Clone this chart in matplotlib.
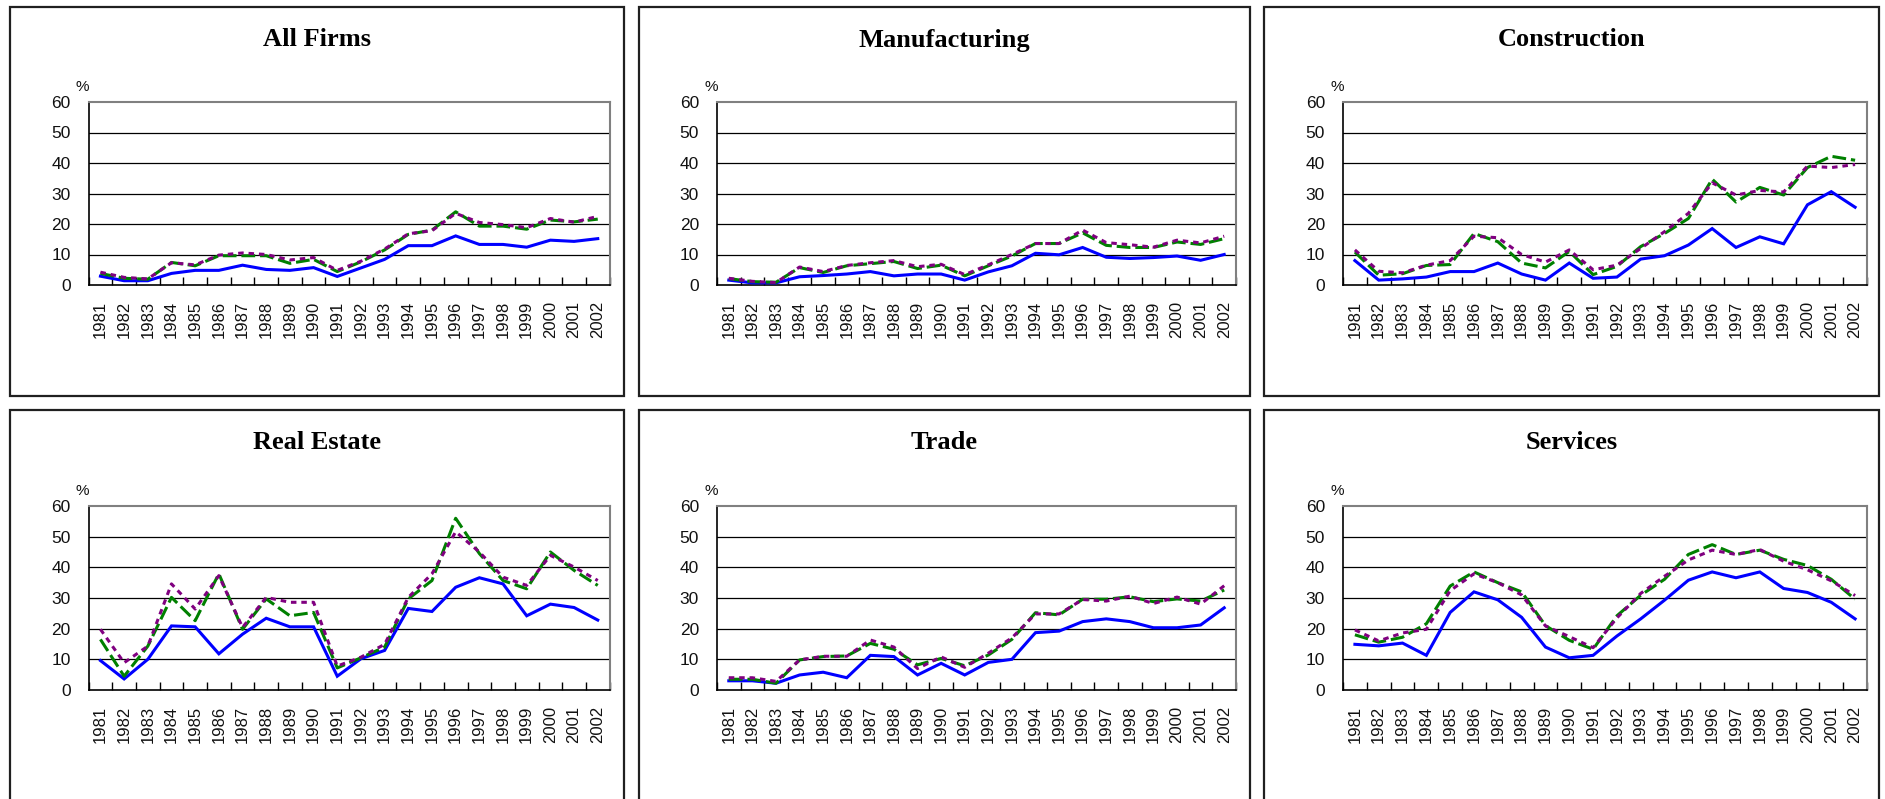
import matplotlib
matplotlib.use("Agg")
import matplotlib.pyplot as plt
from matplotlib.patches import Rectangle

years = [str(y) for y in range(1981, 2003)]
titles = ["All Firms", "Manufacturing", "Construction", "Real Estate", "Trade", "Services"]
y_ticks = [0, 10, 20, 30, 40, 50, 60]

all_blue = [2.9, 1.4, 1.4, 3.8, 4.8, 4.8, 6.5, 5.1, 4.8, 5.7, 2.8, 5.6, 8.4, 12.9, 12.9, 16.1, 13.3, 13.3, 12.4, 14.7, 14.3, 15.2]
all_green = [3.8, 2.2, 1.9, 7.4, 6.3, 9.6, 9.6, 9.6, 7.1, 8.4, 4.4, 7.6, 11.5, 16.6, 18.0, 24.0, 19.3, 19.3, 18.3, 21.3, 20.7, 21.6]
all_purple = [4.2, 2.5, 2.0, 7.3, 6.6, 9.8, 10.5, 10.0, 8.2, 9.0, 4.8, 7.8, 11.8, 16.8, 17.8, 23.5, 20.5, 19.8, 18.8, 21.8, 20.6, 22.5]

man_blue = [1.6, 0.7, 0.7, 2.7, 3.1, 3.6, 4.4, 3.0, 3.6, 3.6, 1.6, 4.3, 6.3, 10.4, 9.9, 12.3, 9.1, 8.7, 9.0, 9.5, 8.1, 10.0]
man_green = [2.1, 1.1, 0.9, 5.7, 4.1, 6.3, 7.0, 7.7, 5.4, 6.5, 3.0, 6.3, 9.5, 13.6, 13.6, 17.1, 13.0, 12.3, 12.3, 14.1, 13.3, 15.2]
man_purple = [2.2, 1.2, 0.8, 5.9, 4.4, 6.4, 7.3, 8.0, 6.0, 6.8, 3.4, 6.6, 10.0, 13.6, 13.6, 18.0, 13.9, 13.2, 12.4, 14.7, 13.8, 16.0]

con_blue = [8.0, 1.6, 2.0, 2.6, 4.4, 4.4, 7.2, 3.6, 1.6, 7.2, 2.2, 2.6, 8.5, 9.6, 13.1, 18.5, 12.3, 15.8, 13.5, 26.3, 30.6, 25.5]
con_green = [10.8, 3.2, 3.7, 6.4, 6.7, 16.9, 14.2, 7.2, 5.6, 11.0, 3.4, 6.1, 12.6, 16.9, 21.8, 34.7, 27.2, 32.0, 29.5, 38.5, 42.2, 40.9]
con_purple = [11.5, 4.5, 4.0, 6.5, 8.0, 16.0, 15.5, 10.0, 7.5, 11.5, 5.0, 6.5, 12.0, 17.5, 23.5, 33.5, 29.5, 31.0, 30.5, 39.0, 38.5, 39.5]

re_blue = [9.6, 3.6, 10.0, 20.9, 20.6, 11.8, 18.2, 23.4, 20.6, 20.6, 4.5, 10.2, 12.9, 26.6, 25.6, 33.5, 36.6, 34.6, 24.2, 28.0, 26.9, 22.8]
re_green = [16.5, 4.5, 14.3, 30.2, 22.6, 37.9, 19.8, 29.7, 24.2, 25.3, 7.2, 10.5, 14.0, 29.7, 35.7, 56.0, 44.5, 35.7, 33.0, 45.0, 39.0, 34.1]
re_purple = [19.8, 8.9, 14.3, 34.6, 26.4, 37.3, 20.4, 30.2, 28.6, 28.6, 7.8, 10.7, 14.9, 30.2, 37.9, 51.6, 45.0, 36.8, 34.1, 43.9, 40.1, 35.7]

tr_blue = [3.0, 3.0, 2.2, 4.9, 5.8, 4.0, 11.3, 10.9, 4.9, 8.7, 4.9, 9.0, 10.0, 18.7, 19.2, 22.3, 23.2, 22.3, 20.3, 20.3, 21.2, 26.8]
tr_green = [3.5, 3.5, 2.2, 9.8, 10.9, 11.1, 15.2, 13.3, 8.2, 10.3, 7.9, 11.4, 16.5, 25.2, 24.5, 29.6, 29.6, 30.4, 28.8, 29.7, 29.0, 32.6]
tr_purple = [4.0, 4.0, 2.8, 9.8, 11.0, 11.0, 16.3, 14.0, 7.0, 10.8, 7.4, 12.0, 17.0, 24.8, 24.8, 29.5, 29.0, 30.6, 28.2, 30.3, 28.0, 34.0]

sv_blue = [14.9, 14.4, 15.3, 11.3, 25.3, 32.0, 29.4, 23.7, 14.0, 10.5, 11.3, 17.6, 23.2, 29.3, 35.8, 38.5, 36.6, 38.5, 33.1, 31.8, 28.6, 23.2]
sv_green = [18.0, 15.6, 17.2, 21.6, 33.9, 38.5, 35.0, 32.0, 21.0, 16.2, 13.3, 24.2, 30.9, 36.1, 44.2, 47.4, 44.2, 45.6, 42.6, 40.6, 36.1, 29.6]
sv_purple = [19.6, 16.0, 18.6, 19.8, 32.4, 37.9, 35.0, 31.0, 20.9, 17.4, 13.8, 23.5, 31.5, 37.1, 42.4, 45.6, 44.2, 45.8, 42.0, 39.2, 35.6, 30.8]

panels = [
    (all_blue, all_green, all_purple),
    (man_blue, man_green, man_purple),
    (con_blue, con_green, con_purple),
    (re_blue, re_green, re_purple),
    (tr_blue, tr_green, tr_purple),
    (sv_blue, sv_green, sv_purple),
]

W, H = 1885, 799
fig = plt.figure(figsize=(W / 100, H / 100), dpi=100)
fig.patch.set_facecolor("white")

# pixel layout
col_plot = [(88.6, 521), (717, 519), (1343, 524)]
row_plot = [(102, 285), (506, 690)]
col_box = [(10, 624), (639, 1250), (1264, 1879)]
row_box = [(7, 396), (410, 830)]
title_y = [40, 443]

sans = ["Liberation Sans", "DejaVu Sans"]
serif = ["Liberation Serif", "DejaVu Serif"]

for i, (title, (b, g, p)) in enumerate(zip(titles, panels)):
    r, c = divmod(i, 3)
    bx0, bx1 = col_box[c]
    by0, by1 = row_box[r]
    fig.patches.append(Rectangle((bx0 / W, 1 - by1 / H), (bx1 - bx0) / W, (by1 - by0) / H,
                                 transform=fig.transFigure, fill=False, edgecolor="#202020",
                                 linewidth=1.6, zorder=0))
    fig.text((bx0 + bx1) / 2 / W, 1 - title_y[r] / H, title, ha="center", va="center",
             fontsize=19, fontweight="bold", family=serif)

    left, width = col_plot[c]
    top, bottom = row_plot[r]
    ax = fig.add_axes([left / W, 1 - bottom / H, width / W, (bottom - top) / H])
    x = list(range(len(years)))
    ax.plot(x, b, color="#0000FF", lw=2.2, solid_joinstyle="miter", zorder=3)
    ax.plot(x, g, color="#008000", lw=2.2, dashes=(4.5, 1.6), zorder=4)
    ax.plot(x, p, color="#800080", lw=2.2, dashes=(1.8, 1.6), zorder=5)

    ax.set_xlim(-0.5, len(years) - 0.5)
    ax.set_ylim(0, 60)
    ax.set_yticks(y_ticks)
    ax.set_yticklabels([str(v) for v in y_ticks], family=sans, fontsize=12.5, color="#111111")
    ax.set_xticks(x)
    ax.set_xticklabels(years, rotation=90, family=sans, fontsize=12, color="#111111")
    ax.set_xticks([v - 0.5 for v in range(len(years) + 1)], minor=True)
    ax.tick_params(axis="x", which="major", length=0, pad=11.5)
    ax.tick_params(axis="x", which="minor", direction="in", length=5.5, width=1, color="black")
    ax.tick_params(axis="y", which="major", length=0, pad=13)
    for yv in y_ticks[1:-1]:
        ax.axhline(yv, color="black", lw=0.9, zorder=1)
    ax.spines["left"].set_color("black")
    ax.spines["bottom"].set_color("black")
    ax.spines["left"].set_linewidth(1.2)
    ax.spines["bottom"].set_linewidth(1.2)
    ax.spines["top"].set_color("#808080")
    ax.spines["right"].set_color("#808080")
    ax.spines["top"].set_linewidth(1.5)
    ax.spines["right"].set_linewidth(1.5)
    fig.text((left - 6) / W, 1 - (top - 15) / H, "%", ha="center", va="center",
             fontsize=11, family=sans, color="#111111")

fig.savefig("out.png", dpi=100)
